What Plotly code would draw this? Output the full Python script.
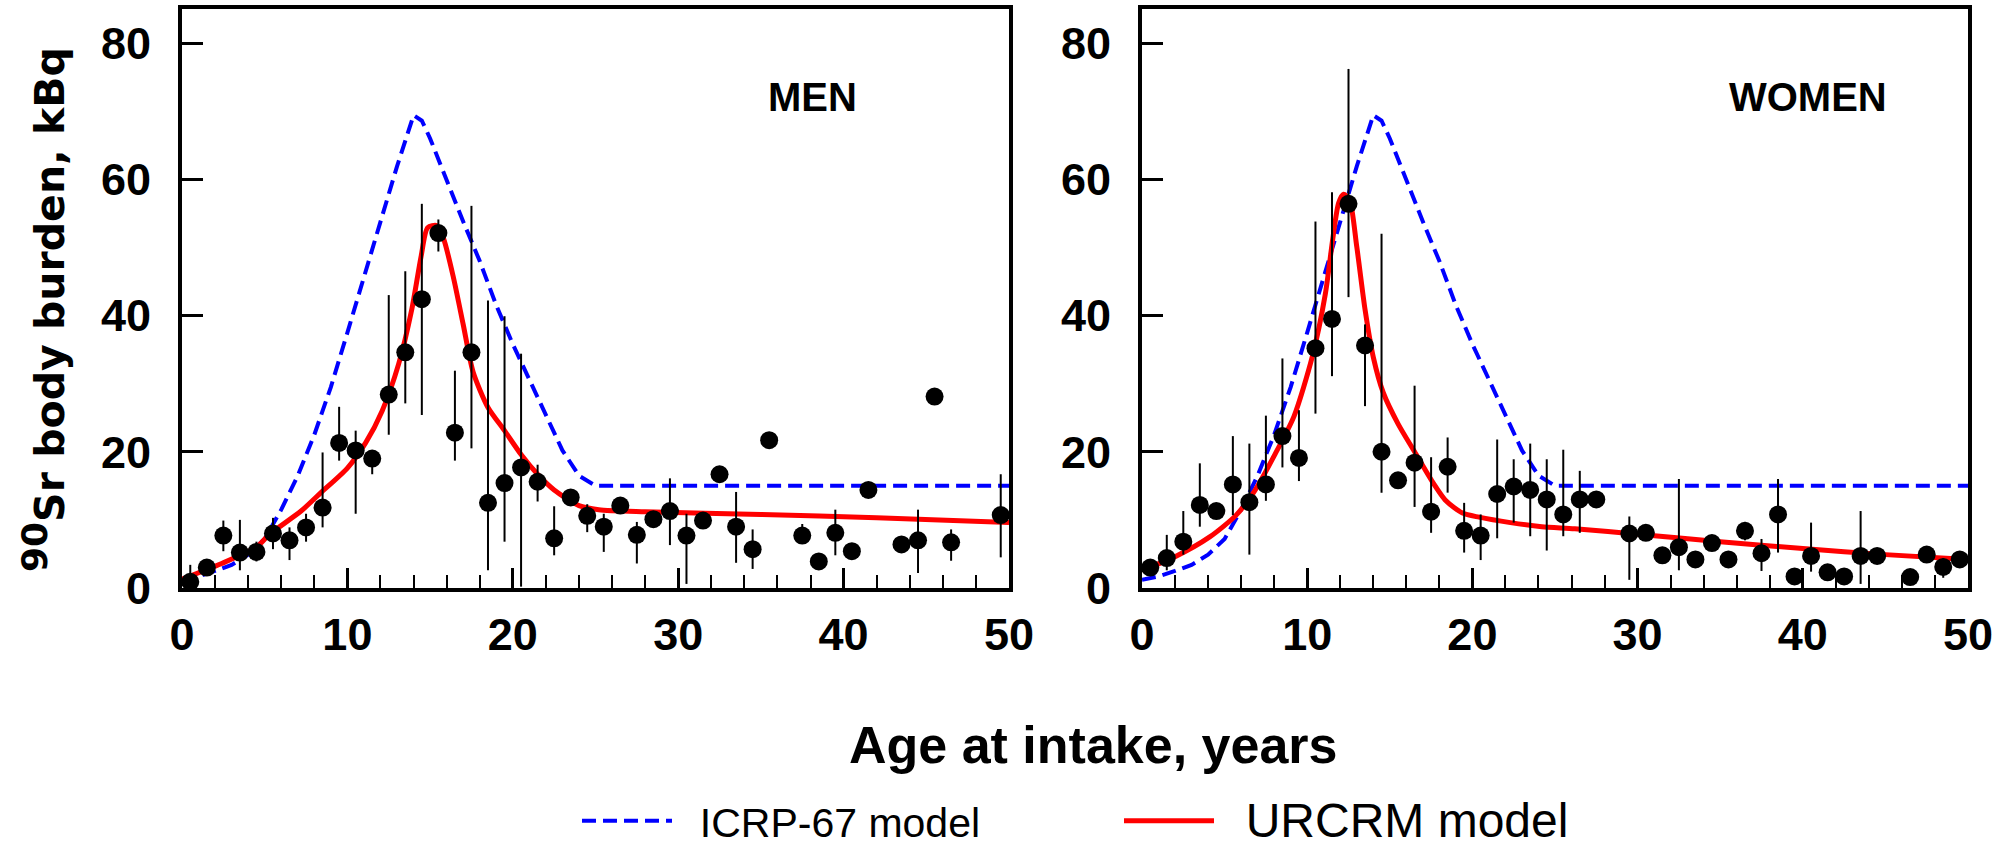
import plotly.graph_objects as go

W, H = 2001, 843

# ---------------- data ----------------
age_men = [0.5, 1.5, 2.5, 3.5, 4.5, 5.5, 6.5, 7.5, 8.5, 9.5, 10.5, 11.5, 12.5, 13.5, 14.5, 15.5,
           16.5, 17.5, 18.5, 19.5, 20.5, 21.5, 22.5, 23.5, 24.5, 25.5, 26.5, 27.5, 28.5, 29.5,
           30.5, 31.5, 32.5, 33.5, 34.5, 35.5, 37.5, 38.5, 39.5, 40.5, 41.5, 43.5, 44.5, 45.5,
           46.5, 49.5]
burden_men = [0.9, 3.0, 7.7, 5.2, 5.3, 8.0, 7.0, 8.9, 11.8, 21.3, 20.2, 19.0, 28.4, 34.6, 42.4, 52.1,
              22.8, 34.6, 12.5, 15.4, 17.7, 15.6, 7.3, 13.3, 10.6, 9.0, 12.1, 7.8, 10.1, 11.3,
              7.7, 9.9, 16.7, 9.0, 5.7, 21.7, 7.7, 3.9, 8.1, 5.4, 14.4, 6.4, 7.0, 28.1,
              6.7, 10.7]
err_up_men = [2.5, 0, 2.2, 4.8, 1.5, 2.3, 1.9, 2.0, 8.1, 5.3, 2.9, 1.2, 14.6, 11.9, 14.0, 2.0,
              9.1, 21.5, 29.7, 24.5, 16.7, 2.5, 4.7, 0, 1.7, 1.9, 0, 1.9, 0, 4.8,
              3.2, 0, 0, 5.1, 2.9, 0, 1.7, 0, 3.4, 0, 0, 0, 4.5, 0,
              1.9, 6.0]
err_lo_men = [0, 0, 2.3, 2.6, 1.4, 2.3, 2.9, 2.1, 2.9, 2.6, 9.3, 2.3, 5.9, 7.5, 17.0, 2.7,
              4.1, 14.1, 9.9, 8.6, 17.5, 2.9, 2.5, 0, 2.4, 3.7, 0, 4.2, 0, 5.0,
              7.1, 0, 0, 5.3, 2.9, 0, 1.2, 0, 3.3, 0, 0, 0, 4.8, 0,
              2.7, 6.2]

age_women = [0.5, 1.5, 2.5, 3.5, 4.5, 5.5, 6.5, 7.5, 8.5, 9.5, 10.5, 11.5, 12.5, 13.5, 14.5, 15.5,
             16.5, 17.5, 18.5, 19.5, 20.5, 21.5, 22.5, 23.5, 24.5, 25.5, 26.5, 27.5, 29.5, 30.5,
             31.5, 32.5, 33.5, 34.5, 35.5, 36.5, 37.5, 38.5, 39.5, 40.5, 41.5, 42.5, 43.5, 44.5,
             46.5, 47.5, 48.5, 49.5]
burden_women = [3.0, 4.4, 6.8, 12.2, 11.3, 15.2, 12.6, 15.2, 22.3, 19.1, 35.2, 39.5, 56.4, 35.6, 20.0, 15.8,
                18.4, 11.2, 17.8, 8.4, 7.7, 13.8, 14.9, 14.4, 13.0, 10.8, 13.0, 13.0, 8.0, 8.1,
                4.8, 6.0, 4.2, 6.6, 4.2, 8.4, 5.1, 10.8, 1.7, 4.7, 2.3, 1.7, 4.7, 4.7,
                1.6, 4.9, 3.1, 4.2]
err_up_women = [0, 3.4, 4.5, 6.1, 0, 7.1, 8.6, 10.1, 11.4, 7.0, 18.6, 18.6, 19.8, 3.1, 32.0, 0,
                11.3, 8.0, 4.3, 4.1, 3.1, 8.0, 4.0, 6.8, 5.9, 9.5, 4.2, 0, 2.5, 0,
                0, 10.0, 0, 0, 0, 1.3, 2.1, 5.2, 0, 4.9, 0, 0, 6.6, 0,
                0, 0, 1.3, 0]
err_lo_women = [0, 1.8, 1.9, 3.2, 0, 4.5, 7.7, 2.4, 4.6, 3.4, 9.6, 8.4, 13.7, 8.9, 6.0, 0,
                6.5, 3.1, 3.8, 3.2, 3.6, 6.5, 5.3, 6.8, 7.5, 3.2, 4.9, 0, 6.8, 0,
                0, 3.4, 0, 0, 0, 1.4, 2.6, 5.6, 0, 2.3, 0, 0, 4.1, 0,
                0, 0, 1.6, 0]

# ICRP-67 model (same for both panels)
icrp_age = [0, 1, 2, 3, 4, 5, 6, 7, 8, 9, 10, 11, 12, 13, 14, 14.5, 15, 16, 17, 18, 19, 20,
            21, 22, 23, 24, 25, 50]
icrp_val = [1.2, 1.7, 2.5, 3.4, 4.9, 7.2, 11.5, 16.5, 22.5, 29.5, 37.5, 45.6, 53.8, 61.9, 69.4,
            68.6, 66.0, 59.8, 53.8, 48.0, 41.5, 35.8, 30.6, 25.4, 20.2, 16.5, 15.0, 15.0]

# URCRM model
urcrm_men_age = [0, 2.4, 4.5, 5.3, 7.2, 8.4, 10.0, 11.1, 12.1, 13.1, 13.9, 14.45, 14.85, 15.4,
                 15.8, 16.4, 17.0, 17.6, 18.5, 19.5, 20.5, 21.5, 22.5, 24.0, 25.2, 28, 35, 42, 50]
urcrm_men_val = [1.3, 3.6, 6.0, 7.9, 11.3, 14.0, 17.6, 21.3, 26.0, 32.9, 41.0, 48.6, 52.9, 53.2,
                 51.4, 45.7, 38.7, 31.7, 26.5, 23.1, 19.6, 16.7, 14.4, 12.1, 11.5, 11.2, 10.8,
                 10.3, 9.6]
urcrm_women_age = [0, 2.0, 4.1, 5.7, 6.8, 8.0, 9.2, 10.3, 11.1, 11.55, 11.9, 12.2, 12.55, 13.0,
                   13.5, 14.0, 14.6, 15.5, 16.5, 17.5, 18.4, 19.4, 20.4, 22.3, 24.2, 26.2, 30,
                   35, 40, 45, 50]
urcrm_women_val = [2.6, 4.6, 7.5, 10.7, 14.2, 19.4, 25.2, 33.9, 43.2, 51.3, 56.5, 57.8, 57.1, 50.1,
                   40.9, 33.9, 28.7, 24.1, 20.0, 15.9, 12.8, 11.0, 10.4, 9.6, 9.0, 8.7, 7.9,
                   6.8, 5.8, 4.9, 4.2]

panel_labels = ["MEN", "WOMEN"]
label_pos = [(38.1, 72.1), (40.3, 72.1)]
x_ticks = [0, 10, 20, 30, 40, 50]
y_ticks = [0, 20, 40, 60, 80]

# ---------------- figure ----------------
FONT = "Liberation Sans, Arial, sans-serif"
BLUE = "#0000ff"
RED = "#ff0000"
NB = "\u00a0"

fig = go.Figure()

panels = [
    ("x", "y", age_men, burden_men, err_up_men, err_lo_men, urcrm_men_age, urcrm_men_val, True),
    ("x2", "y2", age_women, burden_women, err_up_women, err_lo_women, urcrm_women_age, urcrm_women_val, False),
]

for xa, ya, ax_, by, eu, el, ua, uv, show in panels:
    fig.add_trace(go.Scatter(
        x=icrp_age, y=icrp_val, mode="lines", xaxis=xa, yaxis=ya,
        line=dict(color=BLUE, width=4, dash="14px,7px"),
        name=NB * 2 + "ICRP-67 model", showlegend=show, legendrank=1))
    fig.add_trace(go.Scatter(
        x=ua, y=uv, mode="lines", xaxis=xa, yaxis=ya,
        line=dict(color=RED, width=5, shape="spline", smoothing=0.7),
        name='<span style="font-size:48px">' + NB * 2 + 'URCRM model</span>',
        showlegend=show, legendrank=2))
    fig.add_trace(go.Scatter(
        x=ax_, y=by, mode="markers", xaxis=xa, yaxis=ya,
        marker=dict(color="black", size=18),
        error_y=dict(type="data", symmetric=False, array=eu, arrayminus=el,
                     color="black", thickness=2, width=0),
        showlegend=False))

x_dom = [[182 / W, 1009 / W], [1142 / W, 1968 / W]]
y_dom = [(H - 588) / H, (H - 9) / H]

axis_common = dict(
    showline=True, linecolor="black", linewidth=4, mirror=True,
    showgrid=False, zeroline=False,
    tickfont=dict(family=FONT, size=45, color="black", weight="bold"),
)

for i, xn in enumerate(["xaxis", "xaxis2"]):
    fig.layout[xn] = dict(
        domain=x_dom[i], range=[0, 50], tickvals=x_ticks,
        ticks="inside", ticklen=20, tickwidth=3, tickcolor="black",
        minor=dict(ticks="inside", ticklen=13, tickwidth=2, dtick=2, tick0=0, tickcolor="black"),
        anchor="y" if i == 0 else "y2",
        ticklabelstandoff=4,
        **axis_common)
for i, yn in enumerate(["yaxis", "yaxis2"]):
    fig.layout[yn] = dict(
        domain=y_dom, range=[0, 85], tickvals=y_ticks,
        ticks="inside", ticklen=21, tickwidth=3, tickcolor="black",
        anchor="x" if i == 0 else "x2",
        ticklabelstandoff=18,
        **axis_common)

# panel labels
for i, (lab, (lx, ly)) in enumerate(zip(panel_labels, label_pos)):
    fig.add_annotation(
        x=lx, y=ly, xref="x" if i == 0 else "x2", yref="y" if i == 0 else "y2",
        text=lab, showarrow=False,
        font=dict(family=FONT, size=40, color="black", weight="bold"))

# axis titles
fig.add_annotation(
    x=1093 / W, y=(H - 745) / H, xref="paper", yref="paper",
    text="Age at intake, years", showarrow=False, xanchor="center", yanchor="middle",
    font=dict(family=FONT, size=52, color="black", weight="bold"))
fig.add_annotation(
    x=44 / W, y=(H - 310) / H, xref="paper", yref="paper",
    text='<sup><span style="font-size:36px">90</span></sup>Sr body burden, kBq',
    showarrow=False, textangle=-90,
    xanchor="center", yanchor="middle",
    font=dict(family="DejaVu Sans, sans-serif", size=41, color="black", weight="bold"))

fig.update_layout(
    width=W, height=H,
    margin=dict(l=0, r=0, t=0, b=0, autoexpand=False),
    paper_bgcolor="white", plot_bgcolor="white",
    showlegend=True,
    legend=dict(
        orientation="h", x=577 / W, xanchor="left", y=(H - 821) / H, yanchor="middle",
        font=dict(family=FONT, size=41, color="black"),
        itemwidth=90, entrywidth=437, bgcolor="rgba(0,0,0,0)",
        traceorder="normal"),
)

fig.write_html(
    "out.html",
    config={"displayModeBar": False},
    post_script="document.body.style.margin='0px';document.body.style.overflow='hidden';",
)
